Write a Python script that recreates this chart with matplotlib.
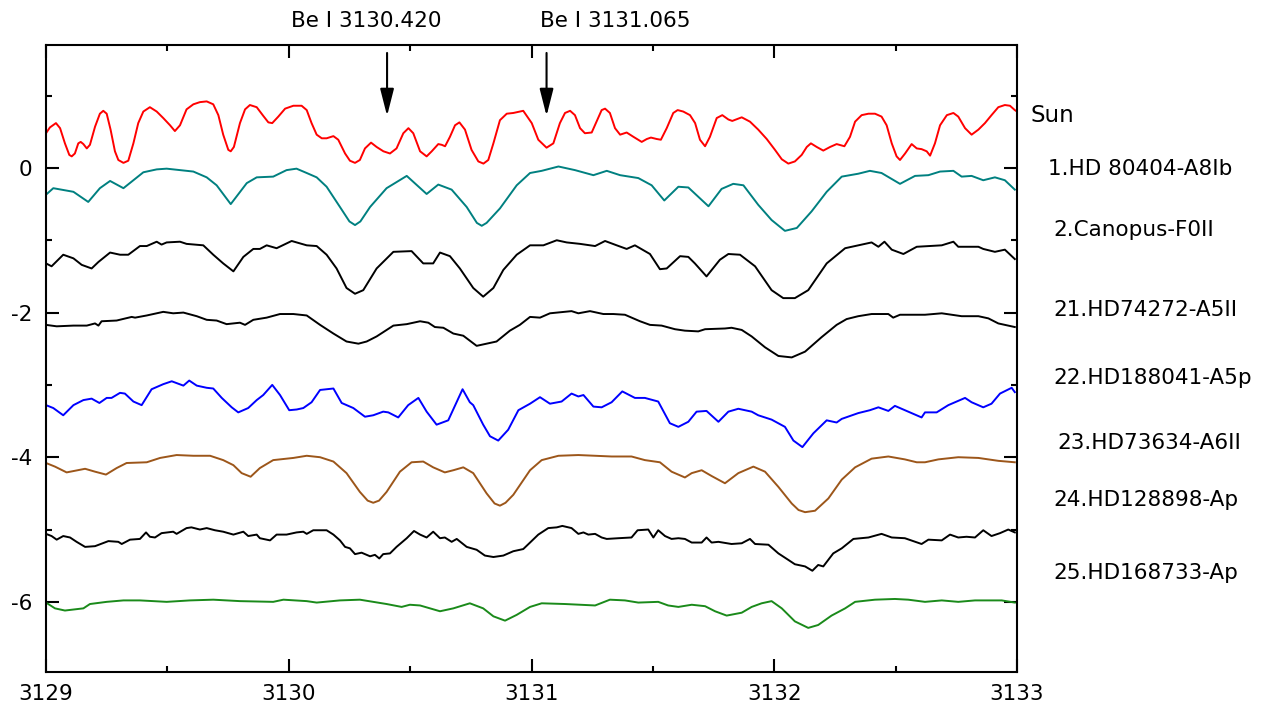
import numpy as np
import matplotlib
matplotlib.use("Agg")
import matplotlib.pyplot as plt

plt.rcParams['axes.unicode_minus'] = False

# spectra (wavelength in A, shifted normalised flux)
sun_wl = [3129.000, 3129.016, 3129.041, 3129.058, 3129.078, 3129.096, 3129.106, 3129.119, 3129.133, 3129.143,
          3129.154, 3129.168, 3129.181, 3129.202, 3129.222, 3129.236, 3129.250, 3129.266, 3129.284, 3129.298,
          3129.319, 3129.339, 3129.360, 3129.380, 3129.401, 3129.428, 3129.456, 3129.483, 3129.511, 3129.531,
          3129.552, 3129.579, 3129.607, 3129.634, 3129.662, 3129.689, 3129.710, 3129.730, 3129.751, 3129.761,
          3129.774, 3129.799, 3129.820, 3129.840, 3129.868, 3129.895, 3129.916, 3129.932, 3129.957, 3129.985,
          3130.019, 3130.053, 3130.074, 3130.094, 3130.115, 3130.136, 3130.156, 3130.184, 3130.204, 3130.232,
          3130.252, 3130.273, 3130.293, 3130.314, 3130.339, 3130.362, 3130.390, 3130.417, 3130.444, 3130.472,
          3130.493, 3130.513, 3130.541, 3130.568, 3130.589, 3130.616, 3130.630, 3130.644, 3130.664, 3130.685,
          3130.703, 3130.726, 3130.753, 3130.781, 3130.802, 3130.822, 3130.843, 3130.870, 3130.898, 3130.925,
          3130.966, 3131.001, 3131.028, 3131.062, 3131.090, 3131.117, 3131.138, 3131.159, 3131.179, 3131.200,
          3131.220, 3131.248, 3131.268, 3131.289, 3131.303, 3131.323, 3131.344, 3131.365, 3131.392, 3131.420,
          3131.454, 3131.475, 3131.492, 3131.516, 3131.533, 3131.557, 3131.584, 3131.602, 3131.625, 3131.653,
          3131.674, 3131.694, 3131.715, 3131.735, 3131.763, 3131.786, 3131.811, 3131.827, 3131.866, 3131.900,
          3131.934, 3131.969, 3132.003, 3132.031, 3132.058, 3132.085, 3132.113, 3132.134, 3132.151, 3132.175,
          3132.202, 3132.230, 3132.257, 3132.289, 3132.312, 3132.333, 3132.360, 3132.388, 3132.415, 3132.442,
          3132.463, 3132.484, 3132.504, 3132.518, 3132.539, 3132.566, 3132.587, 3132.607, 3132.628, 3132.642,
          3132.662, 3132.683, 3132.711, 3132.738, 3132.758, 3132.786, 3132.813, 3132.841, 3132.868, 3132.895,
          3132.923, 3132.950, 3132.971, 3132.991, 3133.000]
sun_flux = [0.48, 0.56, 0.62, 0.55, 0.34, 0.18, 0.16, 0.20, 0.34, 0.36,
            0.33, 0.27, 0.32, 0.57, 0.75, 0.79, 0.75, 0.53, 0.23, 0.11,
            0.07, 0.10, 0.34, 0.62, 0.78, 0.84, 0.78, 0.69, 0.59, 0.51,
            0.59, 0.81, 0.88, 0.91, 0.92, 0.88, 0.73, 0.46, 0.25, 0.23,
            0.29, 0.62, 0.81, 0.87, 0.84, 0.72, 0.63, 0.62, 0.71, 0.82,
            0.86, 0.86, 0.80, 0.62, 0.46, 0.41, 0.41, 0.44, 0.39, 0.20,
            0.10, 0.07, 0.11, 0.27, 0.35, 0.29, 0.23, 0.20, 0.27, 0.48,
            0.55, 0.48, 0.23, 0.16, 0.23, 0.33, 0.32, 0.30, 0.43, 0.59,
            0.63, 0.53, 0.25, 0.09, 0.06, 0.11, 0.34, 0.66, 0.75, 0.76,
            0.79, 0.62, 0.39, 0.28, 0.34, 0.62, 0.76, 0.79, 0.73, 0.55,
            0.48, 0.49, 0.64, 0.80, 0.82, 0.76, 0.55, 0.46, 0.49, 0.43,
            0.36, 0.40, 0.42, 0.40, 0.39, 0.55, 0.76, 0.80, 0.78, 0.73,
            0.62, 0.39, 0.30, 0.43, 0.69, 0.73, 0.67, 0.65, 0.70, 0.64,
            0.53, 0.40, 0.25, 0.12, 0.06, 0.09, 0.18, 0.29, 0.34, 0.29,
            0.24, 0.29, 0.33, 0.30, 0.43, 0.64, 0.73, 0.75, 0.75, 0.71,
            0.59, 0.34, 0.16, 0.11, 0.20, 0.33, 0.27, 0.26, 0.23, 0.17,
            0.34, 0.59, 0.73, 0.76, 0.71, 0.55, 0.46, 0.53, 0.62, 0.73,
            0.84, 0.87, 0.86, 0.80, 0.78]

hd80404_wl = [3129.000, 3129.030, 3129.113, 3129.174, 3129.222, 3129.264, 3129.319, 3129.401, 3129.456,
              3129.497, 3129.607, 3129.662, 3129.703, 3129.761, 3129.827, 3129.868, 3129.936, 3129.991,
              3130.032, 3130.074, 3130.115, 3130.156, 3130.211, 3130.250, 3130.273, 3130.295, 3130.335,
              3130.403, 3130.486, 3130.568, 3130.616, 3130.671, 3130.733, 3130.775, 3130.795, 3130.815,
              3130.870, 3130.939, 3130.994, 3131.042,
              3131.111, 3131.179, 3131.255, 3131.310, 3131.365, 3131.440, 3131.495, 3131.547, 3131.605,
              3131.646, 3131.729, 3131.783, 3131.831, 3131.873, 3131.934, 3131.989, 3132.044, 3132.093,
              3132.154, 3132.216, 3132.278, 3132.346, 3132.394, 3132.442, 3132.518, 3132.580, 3132.635,
              3132.683, 3132.738, 3132.772, 3132.813, 3132.861, 3132.909, 3132.950, 3132.991]
hd80404_flux = [-0.37, -0.28, -0.33, -0.47, -0.28, -0.18, -0.28, -0.06, -0.02,
                -0.01, -0.05, -0.13, -0.24, -0.50, -0.21, -0.13, -0.12, -0.03,
                -0.01, -0.07, -0.13, -0.26, -0.54, -0.74, -0.79, -0.74, -0.54,
                -0.28, -0.11, -0.36, -0.23, -0.30, -0.54, -0.76, -0.80, -0.76,
                -0.56, -0.24, -0.07, -0.04,
                0.02, -0.03, -0.10, -0.04, -0.10, -0.14, -0.24, -0.45, -0.26,
                -0.27, -0.53, -0.29, -0.22, -0.24, -0.51, -0.72, -0.87, -0.83,
                -0.60, -0.33, -0.12, -0.08, -0.04, -0.07, -0.22, -0.11, -0.10,
                -0.05, -0.04, -0.12, -0.11, -0.17, -0.13, -0.17, -0.30]

canopus_wl = [3129.000, 3129.023, 3129.071, 3129.113, 3129.147, 3129.188, 3129.216, 3129.264, 3129.305,
              3129.339, 3129.387, 3129.415, 3129.456, 3129.476, 3129.497, 3129.552, 3129.579, 3129.648,
              3129.689, 3129.730, 3129.772, 3129.813, 3129.854, 3129.881, 3129.909, 3129.950, 3130.012,
              3130.074, 3130.115, 3130.156, 3130.197, 3130.238, 3130.273, 3130.307, 3130.362, 3130.431,
              3130.506, 3130.554, 3130.595, 3130.623, 3130.664, 3130.705, 3130.760, 3130.801, 3130.843,
              3130.884, 3130.939, 3130.994, 3131.049, 3131.104, 3131.145, 3131.200, 3131.262, 3131.303,
              3131.351, 3131.392, 3131.426, 3131.488, 3131.529, 3131.557, 3131.612, 3131.646, 3131.673,
              3131.721, 3131.776, 3131.811, 3131.859, 3131.921, 3131.989, 3132.037, 3132.085, 3132.140,
              3132.216, 3132.292, 3132.401, 3132.429, 3132.454, 3132.484, 3132.532, 3132.587, 3132.690,
              3132.738, 3132.758, 3132.841, 3132.861, 3132.909, 3132.950, 3132.991]
canopus_flux = [-1.32, -1.36, -1.20, -1.25, -1.34, -1.39, -1.30, -1.17, -1.20,
                -1.20, -1.08, -1.08, -1.02, -1.06, -1.03, -1.02, -1.05, -1.07,
                -1.20, -1.32, -1.43, -1.23, -1.12, -1.12, -1.07, -1.11, -1.01,
                -1.07, -1.08, -1.20, -1.39, -1.66, -1.74, -1.69, -1.39, -1.16,
                -1.15, -1.32, -1.32, -1.17, -1.22, -1.39, -1.66, -1.78, -1.66,
                -1.41, -1.20, -1.07, -1.07, -1.00, -1.03, -1.05, -1.08, -1.01,
                -1.07, -1.12, -1.07, -1.19, -1.40, -1.39, -1.22, -1.23, -1.32,
                -1.50, -1.27, -1.19, -1.20, -1.36, -1.69, -1.80, -1.80, -1.69,
                -1.32, -1.11, -1.03, -1.09, -1.02, -1.13, -1.19, -1.09, -1.07,
                -1.02, -1.09, -1.09, -1.12, -1.16, -1.13, -1.26]

hd74272_wl = [3129.000, 3129.044, 3129.113, 3129.168, 3129.202, 3129.216, 3129.229, 3129.291, 3129.353,
              3129.367, 3129.415, 3129.483, 3129.524, 3129.566, 3129.621, 3129.662, 3129.703, 3129.744,
              3129.799, 3129.820, 3129.854, 3129.909, 3129.964, 3130.019, 3130.074, 3130.129, 3130.184,
              3130.238, 3130.287, 3130.321, 3130.362, 3130.431, 3130.486, 3130.541, 3130.575, 3130.602,
              3130.637, 3130.678, 3130.719, 3130.774, 3130.856, 3130.911, 3130.952, 3130.994, 3131.035,
              3131.076, 3131.165, 3131.193, 3131.241, 3131.296, 3131.337, 3131.385, 3131.447, 3131.488,
              3131.536, 3131.591, 3131.632, 3131.687, 3131.715, 3131.797, 3131.824, 3131.866, 3131.907,
              3131.962, 3132.017, 3132.072, 3132.127, 3132.195, 3132.257, 3132.298, 3132.346, 3132.401,
              3132.470, 3132.490, 3132.518, 3132.621, 3132.690, 3132.772, 3132.841, 3132.882, 3132.923,
              3132.991]
hd74272_flux = [-2.17, -2.19, -2.18, -2.18, -2.15, -2.18, -2.12, -2.11, -2.06,
                -2.07, -2.04, -1.99, -2.01, -2.00, -2.05, -2.10, -2.11, -2.16,
                -2.14, -2.17, -2.10, -2.07, -2.02, -2.02, -2.04, -2.17, -2.29,
                -2.40, -2.43, -2.40, -2.33, -2.18, -2.16, -2.12, -2.14, -2.20,
                -2.21, -2.29, -2.32, -2.46, -2.40, -2.25, -2.17, -2.06, -2.07,
                -2.01, -1.98, -2.01, -1.98, -2.02, -2.02, -2.03, -2.12, -2.17,
                -2.18, -2.23, -2.25, -2.26, -2.23, -2.22, -2.21, -2.24, -2.33,
                -2.48, -2.60, -2.62, -2.54, -2.34, -2.17, -2.09, -2.05, -2.02,
                -2.02, -2.07, -2.03, -2.03, -2.01, -2.05, -2.05, -2.08, -2.15,
                -2.20]

hd188041_wl = [3129.000, 3129.030, 3129.071, 3129.113, 3129.154, 3129.188, 3129.220, 3129.250, 3129.270,
               3129.305, 3129.325, 3129.360, 3129.394, 3129.435, 3129.483, 3129.518, 3129.566, 3129.590,
               3129.621, 3129.662, 3129.689, 3129.724, 3129.765, 3129.792, 3129.833, 3129.868, 3129.895,
               3129.932, 3129.964, 3130.002, 3130.033, 3130.060, 3130.094, 3130.129, 3130.184, 3130.218,
               3130.266, 3130.314, 3130.348, 3130.389, 3130.410, 3130.451, 3130.492, 3130.534, 3130.568,
               3130.609, 3130.657, 3130.716, 3130.746, 3130.760, 3130.801, 3130.829, 3130.863, 3130.904,
               3130.946, 3130.994, 3131.035, 3131.076, 3131.124, 3131.165, 3131.193, 3131.214, 3131.255,
               3131.289, 3131.330, 3131.374, 3131.426, 3131.467, 3131.522, 3131.570, 3131.605, 3131.646,
               3131.680, 3131.721, 3131.770, 3131.811, 3131.852, 3131.907, 3131.934, 3131.989, 3132.044,
               3132.079, 3132.116, 3132.161, 3132.216, 3132.257, 3132.278, 3132.346, 3132.394, 3132.429,
               3132.470, 3132.497, 3132.552, 3132.607, 3132.621, 3132.669, 3132.717, 3132.786, 3132.813,
               3132.861, 3132.895, 3132.930, 3132.978, 3132.991]
hd188041_flux = [-3.28, -3.32, -3.42, -3.28, -3.21, -3.19, -3.25, -3.18, -3.18,
                 -3.11, -3.12, -3.23, -3.28, -3.06, -2.99, -2.95, -3.01, -2.94,
                 -3.01, -3.04, -3.05, -3.18, -3.31, -3.38, -3.32, -3.21, -3.14,
                 -3.00, -3.14, -3.35, -3.34, -3.32, -3.24, -3.07, -3.05, -3.25,
                 -3.32, -3.44, -3.42, -3.37, -3.38, -3.45, -3.28, -3.18, -3.37,
                 -3.55, -3.49, -3.06, -3.24, -3.28, -3.55, -3.71, -3.77, -3.62,
                 -3.35, -3.26, -3.17, -3.26, -3.23, -3.12, -3.16, -3.14, -3.30,
                 -3.31, -3.24, -3.09, -3.18, -3.18, -3.23, -3.53, -3.58, -3.51,
                 -3.37, -3.36, -3.51, -3.37, -3.33, -3.37, -3.42, -3.48, -3.58,
                 -3.77, -3.86, -3.67, -3.49, -3.52, -3.47, -3.39, -3.35, -3.31,
                 -3.36, -3.29, -3.37, -3.45, -3.38, -3.38, -3.28, -3.18, -3.24,
                 -3.31, -3.26, -3.12, -3.04, -3.10]

hd73634_wl = [3129.000, 3129.037, 3129.085, 3129.161, 3129.202, 3129.247, 3129.291, 3129.332, 3129.415,
              3129.470, 3129.538, 3129.607, 3129.676, 3129.730, 3129.772, 3129.806, 3129.843, 3129.881,
              3129.936, 3130.019, 3130.074, 3130.129, 3130.184, 3130.238, 3130.293, 3130.325, 3130.348,
              3130.372, 3130.403, 3130.458, 3130.506, 3130.554, 3130.595, 3130.643, 3130.678, 3130.719,
              3130.760, 3130.815, 3130.848, 3130.870, 3130.893, 3130.925, 3130.994, 3131.042, 3131.111,
              3131.193, 3131.262, 3131.330, 3131.412, 3131.467, 3131.529, 3131.577, 3131.632, 3131.660,
              3131.701, 3131.742, 3131.797, 3131.852, 3131.914, 3131.962, 3132.017, 3132.072, 3132.100,
              3132.127, 3132.168, 3132.223, 3132.278, 3132.333, 3132.401, 3132.470, 3132.538, 3132.587,
              3132.621, 3132.676, 3132.758, 3132.841, 3132.923, 3132.991]
hd73634_flux = [-4.08, -4.13, -4.21, -4.16, -4.20, -4.24, -4.15, -4.08, -4.07,
                -4.01, -3.97, -3.98, -3.98, -4.04, -4.11, -4.22, -4.27, -4.15,
                -4.04, -4.01, -3.98, -4.00, -4.06, -4.22, -4.48, -4.60, -4.63,
                -4.60, -4.48, -4.20, -4.07, -4.06, -4.14, -4.21, -4.18, -4.14,
                -4.22, -4.50, -4.64, -4.67, -4.63, -4.52, -4.18, -4.04, -3.98,
                -3.97, -3.98, -3.99, -3.99, -4.04, -4.07, -4.20, -4.28, -4.22,
                -4.18, -4.26, -4.36, -4.22, -4.13, -4.20, -4.41, -4.64, -4.73,
                -4.76, -4.74, -4.57, -4.31, -4.14, -4.02, -3.99, -4.03, -4.07,
                -4.07, -4.03, -4.00, -4.01, -4.05, -4.07]

hd128898_wl = [3129.000, 3129.023, 3129.044, 3129.071, 3129.099, 3129.126, 3129.161, 3129.202, 3129.257,
               3129.298, 3129.312, 3129.346, 3129.387, 3129.412, 3129.428, 3129.449, 3129.476, 3129.524,
               3129.538, 3129.579, 3129.599, 3129.634, 3129.662, 3129.696, 3129.730, 3129.772, 3129.813,
               3129.833, 3129.868, 3129.881, 3129.923, 3129.950, 3129.991, 3130.032, 3130.060, 3130.074,
               3130.101, 3130.156, 3130.184, 3130.211, 3130.232, 3130.252, 3130.273, 3130.300, 3130.335,
               3130.355, 3130.373, 3130.389, 3130.417, 3130.444, 3130.486, 3130.516, 3130.541, 3130.568,
               3130.595, 3130.623, 3130.643, 3130.671, 3130.692, 3130.733, 3130.774, 3130.808, 3130.843,
               3130.884, 3130.925, 3130.966, 3130.994, 3131.028, 3131.069, 3131.104, 3131.127, 3131.165,
               3131.193, 3131.214, 3131.234, 3131.262, 3131.289, 3131.310, 3131.358, 3131.412, 3131.437,
               3131.481, 3131.502, 3131.522, 3131.550, 3131.577, 3131.605, 3131.632, 3131.660, 3131.701,
               3131.721, 3131.742, 3131.770, 3131.824, 3131.866, 3131.900, 3131.921, 3131.976, 3132.017,
               3132.058, 3132.085, 3132.127, 3132.157, 3132.181, 3132.202, 3132.243, 3132.278, 3132.326,
               3132.388, 3132.442, 3132.484, 3132.538, 3132.607, 3132.635, 3132.690, 3132.724, 3132.758,
               3132.792, 3132.827, 3132.861, 3132.895, 3132.930, 3132.964, 3132.991]
hd128898_flux = [-5.06, -5.09, -5.14, -5.09, -5.11, -5.17, -5.24, -5.23, -5.16,
                 -5.17, -5.20, -5.14, -5.13, -5.04, -5.10, -5.11, -5.05, -5.03,
                 -5.06, -4.98, -4.97, -5.00, -4.98, -5.01, -5.03, -5.07, -5.03,
                 -5.09, -5.07, -5.12, -5.15, -5.07, -5.07, -5.04, -5.03, -5.06,
                 -5.01, -5.01, -5.07, -5.15, -5.24, -5.26, -5.34, -5.32, -5.37,
                 -5.35, -5.40, -5.34, -5.33, -5.24, -5.12, -5.02, -5.07, -5.11,
                 -5.03, -5.12, -5.11, -5.17, -5.13, -5.24, -5.28, -5.36, -5.38,
                 -5.36, -5.30, -5.27, -5.18, -5.07, -4.98, -4.97, -4.95, -4.98,
                 -5.06, -5.04, -5.07, -5.06, -5.11, -5.13, -5.12, -5.11, -5.01,
                 -5.00, -5.11, -5.01, -5.09, -5.13, -5.12, -5.13, -5.18, -5.18,
                 -5.11, -5.18, -5.17, -5.20, -5.19, -5.13, -5.20, -5.21, -5.33,
                 -5.42, -5.48, -5.51, -5.57, -5.49, -5.51, -5.33, -5.26, -5.13,
                 -5.11, -5.06, -5.11, -5.12, -5.20, -5.14, -5.15, -5.07, -5.11,
                 -5.10, -5.11, -5.01, -5.09, -5.05, -5.00, -5.04]

hd168733_wl = [3129.000, 3129.037, 3129.078, 3129.154, 3129.181, 3129.250, 3129.319, 3129.387, 3129.497,
               3129.593, 3129.689, 3129.799, 3129.936, 3129.978, 3130.074, 3130.115, 3130.211, 3130.293,
               3130.348, 3130.403, 3130.465, 3130.499, 3130.541, 3130.623, 3130.678, 3130.746, 3130.801,
               3130.843, 3130.891, 3130.939, 3130.994, 3131.042, 3131.138, 3131.262, 3131.323, 3131.385,
               3131.440, 3131.522, 3131.563, 3131.605, 3131.660, 3131.715, 3131.756, 3131.804, 3131.866,
               3131.907, 3131.948, 3131.989, 3132.031, 3132.085, 3132.140, 3132.181, 3132.236, 3132.292,
               3132.333, 3132.415, 3132.497, 3132.552, 3132.621, 3132.690, 3132.758, 3132.827, 3132.895,
               3132.937, 3132.991]
hd168733_flux = [-6.01, -6.09, -6.12, -6.09, -6.03, -6.00, -5.98, -5.98, -6.00,
                 -5.98, -5.97, -5.99, -6.00, -5.97, -5.99, -6.01, -5.98, -5.97,
                 -6.00, -6.03, -6.07, -6.04, -6.05, -6.13, -6.09, -6.02, -6.09,
                 -6.20, -6.26, -6.18, -6.07, -6.02, -6.03, -6.05, -5.97, -5.98,
                 -6.01, -6.00, -6.05, -6.07, -6.04, -6.06, -6.13, -6.19, -6.15,
                 -6.07, -6.02, -5.99, -6.09, -6.27, -6.36, -6.32, -6.19, -6.09,
                 -6.00, -5.97, -5.96, -5.97, -6.00, -5.98, -6.00, -5.98, -5.98,
                 -5.98, -6.01]

spectra = [
    (sun_wl, sun_flux, '#ff0000'),
    (hd80404_wl, hd80404_flux, '#008080'),
    (canopus_wl, canopus_flux, '#000000'),
    (hd74272_wl, hd74272_flux, '#000000'),
    (hd188041_wl, hd188041_flux, '#0000ff'),
    (hd73634_wl, hd73634_flux, '#9c561a'),
    (hd128898_wl, hd128898_flux, '#000000'),
    (hd168733_wl, hd168733_flux, '#1a8a1a'),
]

star_names = ['Sun', '1.HD 80404-A8Ib', '2.Canopus-F0II', '21.HD74272-A5II',
              '22.HD188041-A5p', '23.HD73634-A6II', '24.HD128898-Ap', '25.HD168733-Ap']
name_y = [115, 169, 230, 310, 378, 443, 500, 573]   # pixel rows of the labels
name_x = [1031, 1048, 1053, 1053, 1053, 1057, 1053, 1053]

be_lines = [3130.405, 3131.062]
be_labels = ['Be I 3130.420', 'Be I 3131.065']
be_text_x = [366, 615]

W, H = 1269, 711
fig = plt.figure(figsize=(W / 100, H / 100), dpi=100)
ax = fig.add_axes([46 / W, 39 / H, 971 / W, 627 / H])

for wl, fl, c in spectra:
    ax.plot(wl, fl, color=c, lw=1.4, solid_joinstyle='round')

ax.set_xlim(3129, 3133)
ax.set_ylim(-6.97, 1.70)
ax.set_xticks([3129, 3130, 3131, 3132, 3133])
ax.set_xticks(np.arange(3129, 3133.01, 0.5), minor=True)
ax.set_yticks([-6, -4, -2, 0])
ax.set_yticks([-5, -3, -1, 1], minor=True)
ax.tick_params(which='both', direction='in', top=True, right=True, width=1.5, colors='black')
ax.tick_params(which='major', length=9.5, labelsize=15.5)
ax.tick_params(which='minor', length=4.5)
ax.tick_params(axis='x', pad=9)
ax.tick_params(axis='y', pad=10)
for s in ax.spines.values():
    s.set_linewidth(1.5)

for x in be_lines:
    ax.annotate('', xy=(x, 0.72), xytext=(x, 1.59),
                arrowprops=dict(arrowstyle='-|>,head_length=1.65,head_width=0.42',
                                color='black', lw=1.5, shrinkA=0, shrinkB=0,
                                mutation_scale=10))
for txt, px in zip(be_labels, be_text_x):
    fig.text(px / W, 1 - 21 / H, txt, ha='center', va='center', fontsize=15.5)

for name, px, py in zip(star_names, name_x, name_y):
    fig.text(px / W, 1 - py / H, name, ha='left', va='center',
             fontsize=16.5 if name == 'Sun' else 15.5)

fig.savefig('out.png', dpi=100)
